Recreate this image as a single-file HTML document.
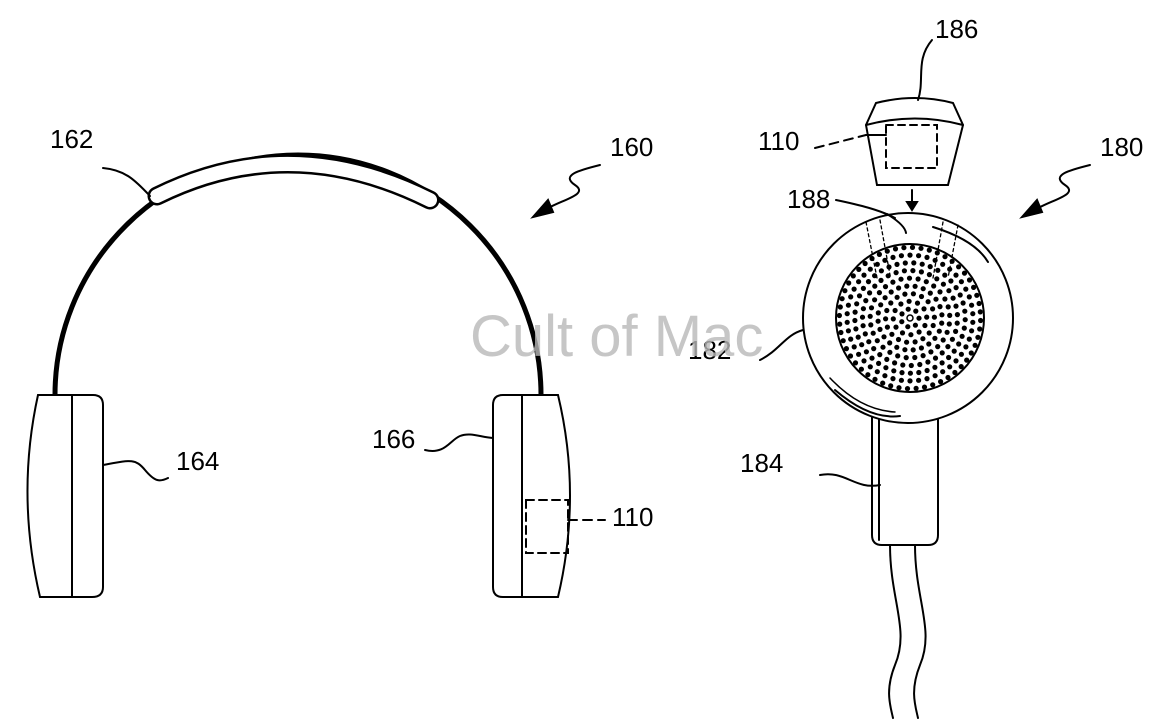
<!DOCTYPE html>
<html><head><meta charset="utf-8"><style>
html,body{margin:0;padding:0;background:#fff;}
svg{display:block;}
text{font-family:"Liberation Sans",sans-serif;font-size:26px;fill:#000;}
</style></head><body>
<svg id="s" width="1161" height="726" viewBox="0 0 1161 726" xmlns="http://www.w3.org/2000/svg">
<g fill="none" stroke="#000" stroke-width="2" stroke-linecap="round">
<path d="M55,395 A243,240 0 0 1 541,395" stroke-width="5"/>
<path d="M157,196 Q290,130 430,200" stroke-width="19"/>
<path d="M157,196 Q290,130 430,200" stroke="#fff" stroke-width="14"/>
<path d="M38,395 Q16,495 40,597 L92,597 Q103,597 103,587 L103,405 Q103,395 93,395 Z" fill="#fff"/>
<line x1="72" y1="395" x2="72" y2="597"/>
<path d="M503,395 Q493,395 493,405 L493,587 Q493,597 503,597 L558,597 Q582,495 558,395 Z" fill="#fff"/>
<line x1="522" y1="395" x2="522" y2="597"/>
<rect x="526" y="500" width="42" height="53" stroke-dasharray="8,5"/>
<path d="M568,520 L605,520" stroke-dasharray="9,6"/>
<path d="M103,168 C125,170 135,180 150,196"/>
<path d="M103,465 C130,460 135,458 145,470 C155,482 160,482 168,478"/>
<path d="M425,450 C445,455 450,440 460,436 C470,432 480,437 493,438"/>
<path d="M600,165 C580,170 560,175 575,185 C590,195 560,200 545,210"/>
<path d="M533,217 L548,200 L553,212 Z" fill="#000"/>
<path d="M1090,165 C1070,170 1050,175 1065,185 C1080,195 1050,200 1035,210"/>
<path d="M1022,217 L1037,200 L1042,212 Z" fill="#000"/>
<path d="M890,545 C890,600 910,630 895,665 C885,690 890,705 893,718"/>
<path d="M915,545 C915,600 935,630 920,665 C910,690 915,705 918,718"/>
<path d="M872,410 L872,535 Q872,545 882,545 L928,545 Q938,545 938,535 L938,410" fill="#fff"/>
<line x1="879" y1="418" x2="879" y2="540"/>
<circle cx="908" cy="318" r="105" fill="#fff"/>
<circle cx="910" cy="318" r="74"/>
<path d="M835,390 Q870,420 900,416"/>
<path d="M830,378 Q860,410 895,412" stroke-width="1.5"/>
<path d="M933,227 Q975,240 988,262"/>
<path d="M887,214 Q905,225 906,233"/>
<g stroke-dasharray="3,3" stroke-width="1.3">
<line x1="866" y1="222" x2="877" y2="278"/><line x1="880" y1="220" x2="890" y2="275"/>
<line x1="943" y1="222" x2="933" y2="278"/><line x1="958" y1="225" x2="948" y2="278"/>
</g>
<path d="M876,103 Q915,93 953,103 L963,125 L948,185 L877,185 L866,125 Z" fill="#fff"/>
<path d="M866,125 Q915,112 963,125"/>
<rect x="886" y="125" width="51" height="43" stroke-dasharray="7,5"/>
<path d="M815,148 L866,135" stroke-dasharray="9,6"/>
<line x1="866" y1="135" x2="886" y2="135"/>
<line x1="912" y1="190" x2="912" y2="205"/>
<path d="M907,202 L917,202 L912,210 Z" fill="#000"/>
<path d="M918,100 C925,80 915,60 932,40"/>
<path d="M836,200 C860,205 880,210 895,218"/>
<path d="M760,360 C780,350 785,335 803,330"/>
<path d="M820,475 C845,470 855,490 880,485"/>
</g>
<g id="dots" fill="#000"></g>
<text x="50" y="148">162</text>
<text x="610" y="156">160</text>
<text x="176" y="470">164</text>
<text x="372" y="448">166</text>
<text x="612" y="526">110</text>
<text x="935" y="38">186</text>
<text x="758" y="150">110</text>
<text x="1100" y="156">180</text>
<text x="787" y="208">188</text>
<text x="688" y="359">182</text>
<text x="740" y="472">184</text>
<text x="470" y="356" style="font-size:58px;fill:#b8b8b8;fill-opacity:0.8">Cult of Mac</text>
</svg>
<script>
var g=document.getElementById('dots'),s='';
s+='<circle cx="910" cy="318" r="3" fill="none" stroke="#000" stroke-width="1.5"/>';
for(var r=9;r<=71;r+=7.7){var n=Math.round(2*Math.PI*r/8.5);for(var i=0;i<n;i++){var a=2*Math.PI*i/n+r;s+='<circle cx="'+(910+r*Math.cos(a)).toFixed(1)+'" cy="'+(318+r*Math.sin(a)).toFixed(1)+'" r="2.6"/>';}}
g.innerHTML=s;
</script>
</body></html>
